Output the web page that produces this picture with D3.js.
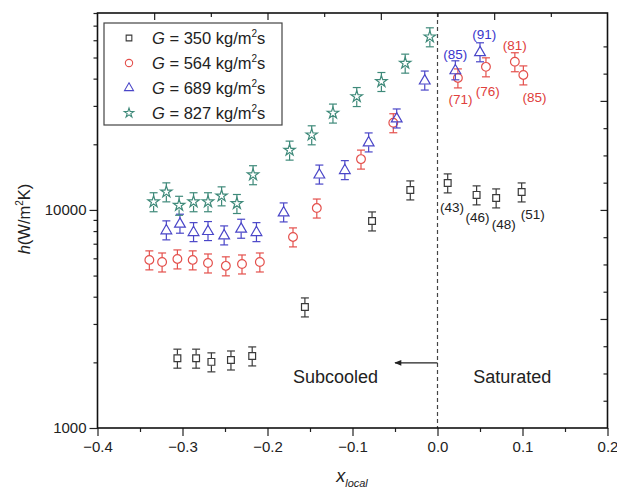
<!DOCTYPE html>
<html><head><meta charset="utf-8">
<script src="https://cdn.jsdelivr.net/npm/d3@7"></script>
<style>body{margin:0;background:#fff}</style>
</head><body>
<svg id="c" width="617" height="491"></svg>
<script>
// ---------- data ----------
const xTickValues = [-0.4,-0.3,-0.2,-0.1,0.0,0.1,0.2];
const yTickLabels = [1000, 10000];
const seriesNames = ["350","564","689","827"];

const g350_x = [-0.306,-0.284,-0.266,-0.243,-0.218,-0.156,-0.077,-0.032,0.012,0.046,0.069,0.099];
const g350_h = [2090,2090,2010,2050,2140,3590,8900,12350,13300,11720,11350,12090];

const g564_x = [-0.339,-0.324,-0.306,-0.288,-0.270,-0.249,-0.230,-0.209,-0.170,-0.142,-0.090,-0.052,0.024,0.057,0.091,0.101];
const g564_h = [5900,5770,5960,5900,5710,5540,5650,5770,7520,10200,17100,25100,40300,45300,47800,41600];

const g689_x = [-0.319,-0.303,-0.287,-0.270,-0.251,-0.231,-0.213,-0.181,-0.139,-0.109,-0.081,-0.048,-0.015,0.021,0.050];
const g689_h = [8100,8690,7950,8040,7680,8240,7950,9790,14600,15300,20500,26400,39400,43900,53100];

const g827_x = [-0.334,-0.319,-0.304,-0.287,-0.270,-0.254,-0.236,-0.217,-0.174,-0.148,-0.123,-0.095,-0.066,-0.038,-0.009];
const g827_h = [10900,12100,10500,10900,10900,11600,10700,14500,18800,22100,27800,33100,38800,47100,62200];

const errorFraction = 0.10;   // ±10 % uncertainty bars

// quality annotations
const lab350_t = ["(43)","(46)","(48)","(51)"];
const lab350_x = [0.017,0.047,0.078,0.112];
const lab350_h = [10300,9190,8530,9490];
const lab564_t = ["(71)","(76)","(81)","(85)"];
const lab564_x = [0.027,0.059,0.091,0.114];
const lab564_h = [32000,34800,56500,32700];
const lab689_t = ["(85)","(91)"];
const lab689_x = [0.021,0.055];
const lab689_h = [51400,63500];

// ---------- setup ----------
const FONT = "'Liberation Sans', Arial, Helvetica, sans-serif";
const svg = d3.select("#c").style("font-family", FONT);
const L = 97.5, R = 607.5, T = 13, B = 428;
const x = d3.scaleLinear().domain([-0.4, 0.2]).range([L, R]);
const y = d3.scaleLog().domain([1000, 80000]).range([B, T]);

const colors = {"350":"#3a3a3a","564":"#e4504c","689":"#4a46c8","827":"#3f8a7a"};
const labelColors = {"350":"#222","564":"#e0403c","689":"#3a36cc"};
const symbols = {"350":d3.symbolSquare,"564":d3.symbolCircle,"689":d3.symbolTriangle,"827":d3.symbolStar};
const symSize = {"350":46,"564":60,"689":50,"827":40};
const gapR = {"350":3.6,"564":4.4,"689":4.2,"827":4.2};

const series = [
  {name:"350", xs:g350_x, hs:g350_h},
  {name:"564", xs:g564_x, hs:g564_h},
  {name:"689", xs:g689_x, hs:g689_h},
  {name:"827", xs:g827_x, hs:g827_h}
];

// dashed line at x=0
svg.append("line").attr("x1", x(0)).attr("x2", x(0)).attr("y1", T).attr("y2", B)
  .attr("stroke", "#444").attr("stroke-width", 1.2).attr("stroke-dasharray", "4,3");

// axes
const minorY = [];
for (let d = 1000; d < 80000; d *= 10) for (let k = 2; k <= 9; k++) if (d*k <= 80000) minorY.push(d*k);
const minorX = d3.range(-0.35, 0.2, 0.1);

function styleAxis(g){ g.select(".domain").remove(); g.selectAll("line").attr("stroke","#222").attr("stroke-width",1.2);
  g.selectAll("text").attr("font-family",FONT).attr("font-size",15).attr("fill","#222"); }

svg.append("g").attr("transform",`translate(${L},0)`)
  .call(d3.axisLeft(y).tickValues(yTickLabels).tickSize(8).tickPadding(3).tickFormat(d3.format("d"))).call(styleAxis);
svg.append("g").attr("transform",`translate(${L},0)`)
  .call(d3.axisLeft(y).tickValues(minorY).tickSize(4).tickFormat("")).call(styleAxis);
svg.append("g").attr("transform",`translate(0,${B})`)
  .call(d3.axisBottom(x).tickValues(xTickValues).tickSize(8).tickPadding(5).tickFormat(d3.format(".1f"))).call(styleAxis);
svg.append("g").attr("transform",`translate(0,${B})`)
  .call(d3.axisBottom(x).tickValues(minorX).tickSize(4).tickFormat("")).call(styleAxis);

// top mirror ticks (inward)
const xTop = d3.scaleLinear().domain([0, 9]).range([L, R]);
svg.append("g").attr("transform",`translate(0,${T})`)
  .call(d3.axisBottom(xTop).tickValues([1,3,5,7]).tickSize(7).tickFormat("")).call(styleAxis);
svg.append("g").attr("transform",`translate(0,${T})`)
  .call(d3.axisBottom(xTop).tickValues([2,4,6,8]).tickSize(4).tickFormat("")).call(styleAxis);
// right mirror ticks (inward), eighth-decade spacing
const yRight = d3.scaleLinear().domain([3, Math.log10(80000)]).range([B, T]);
const rMajor = [3.5, 4.0, 4.5], rMinor = d3.range(3.125, 4.76, 0.125).filter(v => Math.abs(v*2 - Math.round(v*2)) > 1e-6);
svg.append("g").attr("transform",`translate(${R},0)`)
  .call(d3.axisLeft(yRight).tickValues(rMajor).tickSize(7).tickFormat("")).call(styleAxis);
svg.append("g").attr("transform",`translate(${R},0)`)
  .call(d3.axisLeft(yRight).tickValues(rMinor).tickSize(4).tickFormat("")).call(styleAxis);

// frame
svg.append("rect").attr("x", L).attr("y", T).attr("width", R-L).attr("height", B-T)
  .attr("fill","none").attr("stroke","#111").attr("stroke-width",1.6);

// data: error bars + markers
const capW = 4;
series.forEach(s => {
  const c = colors[s.name];
  const g = svg.append("g").attr("stroke", c).attr("fill", "none").attr("stroke-width", 1.2);
  s.xs.forEach((xv, i) => {
    const h = s.hs[i], px = x(xv), py = y(h);
    const yHi = y(h*(1+errorFraction)), yLo = y(h*(1-errorFraction));
    const r = gapR[s.name];
    g.append("line").attr("x1",px).attr("x2",px).attr("y1",yHi).attr("y2",py-r);
    g.append("line").attr("x1",px).attr("x2",px).attr("y1",py+r).attr("y2",yLo);
    g.append("line").attr("x1",px-capW).attr("x2",px+capW).attr("y1",yHi).attr("y2",yHi);
    g.append("line").attr("x1",px-capW).attr("x2",px+capW).attr("y1",yLo).attr("y2",yLo);
    g.append("path").attr("d", d3.symbol().type(symbols[s.name]).size(symSize[s.name])())
      .attr("transform", `translate(${px},${py + (s.name==="689" ? 0.8 : 0)})`);
  });
});

// quality labels
function addLabels(ts, xs, hs, color){
  ts.forEach((t,i)=> svg.append("text").attr("x", x(xs[i])).attr("y", y(hs[i]))
    .attr("text-anchor","middle").attr("dominant-baseline","central")
    .attr("font-size",13.5).attr("fill",color).text(t));
}
addLabels(lab350_t, lab350_x, lab350_h, labelColors["350"]);
addLabels(lab564_t, lab564_x, lab564_h, labelColors["564"]);
addLabels(lab689_t, lab689_x, lab689_h, labelColors["689"]);

// region annotations
svg.append("text").attr("x", x(-0.170)).attr("y", y(1608)).attr("font-size",18).attr("fill","#222").text("Subcooled");
svg.append("text").attr("x", x(0.042)).attr("y", y(1608)).attr("font-size",18).attr("fill","#222").text("Saturated");
svg.append("defs").append("marker").attr("id","ah").attr("viewBox","0 0 10 10").attr("refX",9).attr("refY",5)
  .attr("markerWidth",10).attr("markerHeight",7).attr("markerUnits","userSpaceOnUse").attr("orient","auto")
  .append("path").attr("d","M0,1 L10,5 L0,9 Z").attr("fill","#222");
svg.append("line").attr("x1", x(0)).attr("x2", x(-0.050)).attr("y1", y(1990)).attr("y2", y(1990))
  .attr("stroke","#222").attr("stroke-width",1.1).attr("marker-end","url(#ah)");

// legend
const lg = svg.append("g");
lg.append("rect").attr("x",104).attr("y",23).attr("width",178).attr("height",102)
  .attr("fill","#fff").attr("stroke","#444").attr("stroke-width",1.2);
seriesNames.forEach((n,i)=>{
  const ry = 38 + i*25;
  lg.append("path").attr("d", d3.symbol().type(symbols[n]).size(symSize[n]*0.7)())
    .attr("transform",`translate(129,${ry})`).attr("fill","none").attr("stroke",colors[n]).attr("stroke-width",1.1);
  const t = lg.append("text").attr("x",152).attr("y",ry+6).attr("font-size",16.5).attr("fill","#222");
  t.append("tspan").attr("font-style","italic").text("G");
  t.append("tspan").text(` = ${n} kg/m`);
  t.append("tspan").attr("font-size",10).attr("dy",-7).text("2");
  t.append("tspan").attr("dy",7).text("s");
});

// axis titles
const yl = svg.append("text").attr("transform","translate(30,219) rotate(-90)")
  .attr("text-anchor","middle").attr("font-size",16.5).attr("fill","#222");
yl.append("tspan").attr("font-style","italic").text("h");
yl.append("tspan").text("(W/m");
yl.append("tspan").attr("font-size",10).attr("dy",-7).text("2");
yl.append("tspan").attr("dy",7).text("K)");

const xl = svg.append("text").attr("x",352).attr("y",482).attr("text-anchor","middle").attr("fill","#222");
xl.append("tspan").attr("font-style","italic").attr("font-size",18).text("x");
xl.append("tspan").attr("font-style","italic").attr("font-size",11).attr("dy",5).text("local");
</script>
</body></html>
